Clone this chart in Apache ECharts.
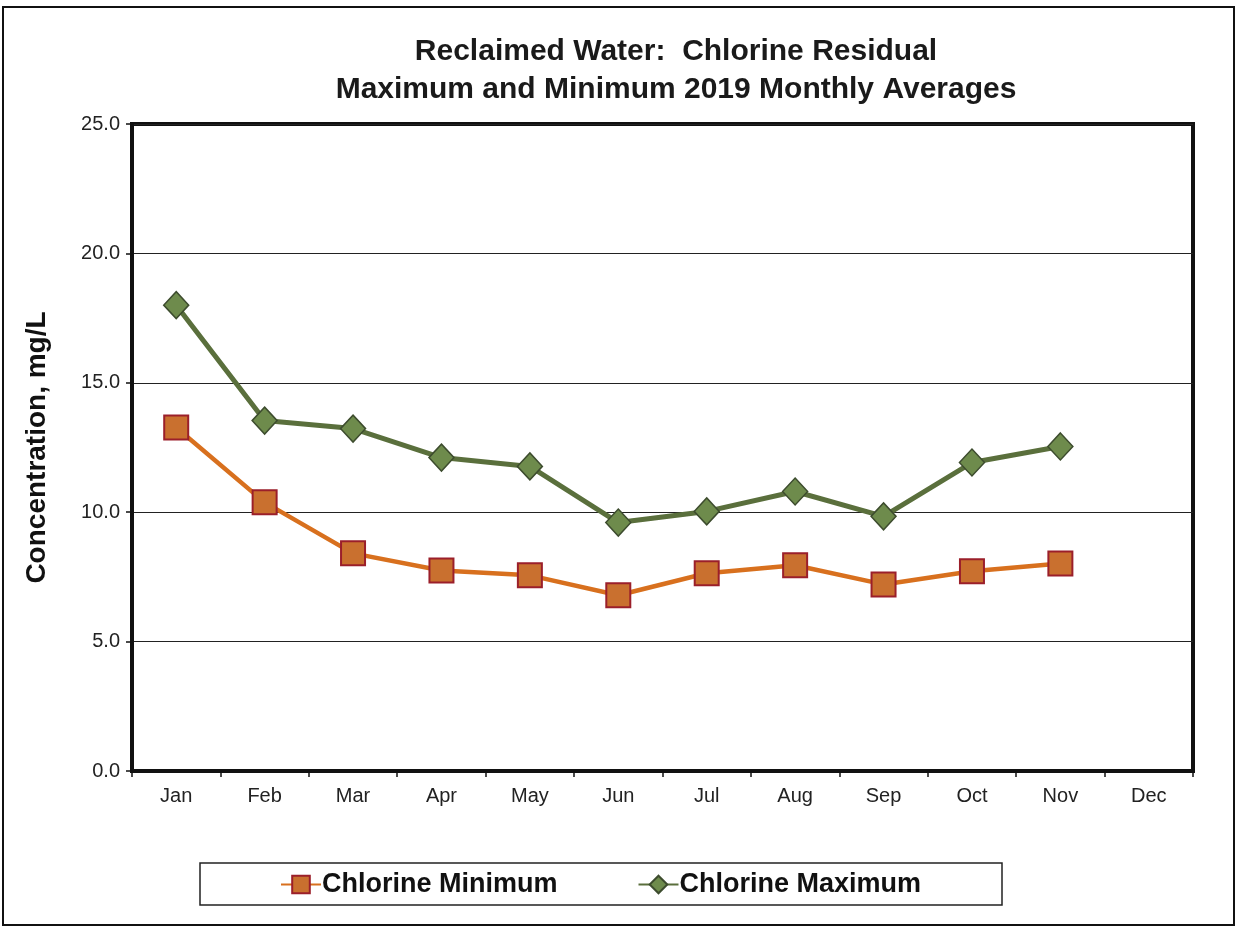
<!DOCTYPE html>
<html>
<head>
<meta charset="utf-8">
<script src="https://cdn.jsdelivr.net/npm/echarts@6/dist/echarts.min.js"></script>
<style>
  html, body { margin: 0; padding: 0; background: #fff; }
  #frame {
    position: absolute; left: 2px; top: 6px; width: 1233px; height: 920px;
    border: 2px solid #111; box-sizing: border-box;
  }
  #chart { position: absolute; left: 0; top: 0; width: 1243px; height: 932px; }
</style>
</head>
<body>
<div id="frame"></div>
<div id="chart"></div>
<script>
const months = ['Jan', 'Feb', 'Mar', 'Apr', 'May', 'Jun', 'Jul', 'Aug', 'Sep', 'Oct', 'Nov', 'Dec']
const chlorineMin = [13.27, 10.38, 8.41, 7.75, 7.56, 6.79, 7.64, 7.95, 7.21, 7.72, 8.02, null]
const chlorineMax = [18.0, 13.54, 13.23, 12.11, 11.77, 9.6, 10.03, 10.8, 9.84, 11.92, 12.54, null]

const chart = echarts.init(document.getElementById('chart'))
const font = 'Liberation Sans, Arial, sans-serif'

chart.setOption({
  animation: false,
  title: {
    text: 'Reclaimed Water:  Chlorine Residual\nMaximum and Minimum 2019 Monthly Averages',
    left: 671,
    top: 28,
    textAlign: 'center',
    textStyle: { fontFamily: font, fontSize: 30, fontWeight: 'bold', color: '#1a1a1a', lineHeight: 38 }
  },
  // legend box drawn separately so its width matches the original
  graphic: [{
    type: 'rect',
    shape: { x: 200, y: 863, width: 802, height: 42 },
    style: { fill: '#fff', stroke: '#222', lineWidth: 1.5 },
    z: 0
  }],
  legend: {
    left: 280,
    top: 871,
    padding: 0,
    itemGap: 80,
    itemWidth: 40,
    itemHeight: 22,
    textStyle: { fontFamily: font, fontSize: 27, fontWeight: 'bold', color: '#111', padding: [2, 0, 0, -4] },
    data: ['Chlorine Minimum', 'Chlorine Maximum'],
    z: 5
  },
  grid: {
    left: 132, right: 50, top: 124, bottom: 161,
    show: true, borderColor: '#111', borderWidth: 4, backgroundColor: 'transparent'
  },
  xAxis: {
    type: 'category',
    data: months,
    boundaryGap: true,
    axisLine: { lineStyle: { color: '#111', width: 4 } },
    axisTick: { show: true, length: 6, lineStyle: { color: '#111', width: 1.5 } },
    axisLabel: { fontFamily: font, fontSize: 20, color: '#222', margin: 15 },
    splitLine: { show: false }
  },
  yAxis: {
    type: 'value',
    min: 0, max: 25, interval: 5,
    name: 'Concentration, mg/L',
    nameLocation: 'middle',
    nameGap: 81,
    nameTextStyle: { fontFamily: font, fontSize: 28, fontWeight: 'bold', color: '#111' },
    axisLine: { show: true, lineStyle: { color: '#111', width: 4 } },
    axisTick: { show: true, length: 6, lineStyle: { color: '#111', width: 1.5 } },
    axisLabel: { fontFamily: font, fontSize: 20, color: '#222', margin: 12, formatter: v => v.toFixed(1) },
    splitLine: { show: true, lineStyle: { color: '#222', width: 1.2 } }
  },
  series: [
    {
      name: 'Chlorine Minimum',
      type: 'line',
      data: chlorineMin,
      symbol: 'rect',
      symbolSize: 24,
      lineStyle: { color: '#d8701e', width: 4.5 },
      itemStyle: { color: '#c9702f', borderColor: '#9b1f2a', borderWidth: 2 },
      z: 3
    },
    {
      name: 'Chlorine Maximum',
      type: 'line',
      data: chlorineMax,
      symbol: 'diamond',
      symbolSize: [25, 27],
      lineStyle: { color: '#5a6f3c', width: 5 },
      itemStyle: { color: '#6e8b4c', borderColor: '#3d4c2e', borderWidth: 1.5 },
      z: 3
    }
  ]
})
</script>
</body>
</html>
